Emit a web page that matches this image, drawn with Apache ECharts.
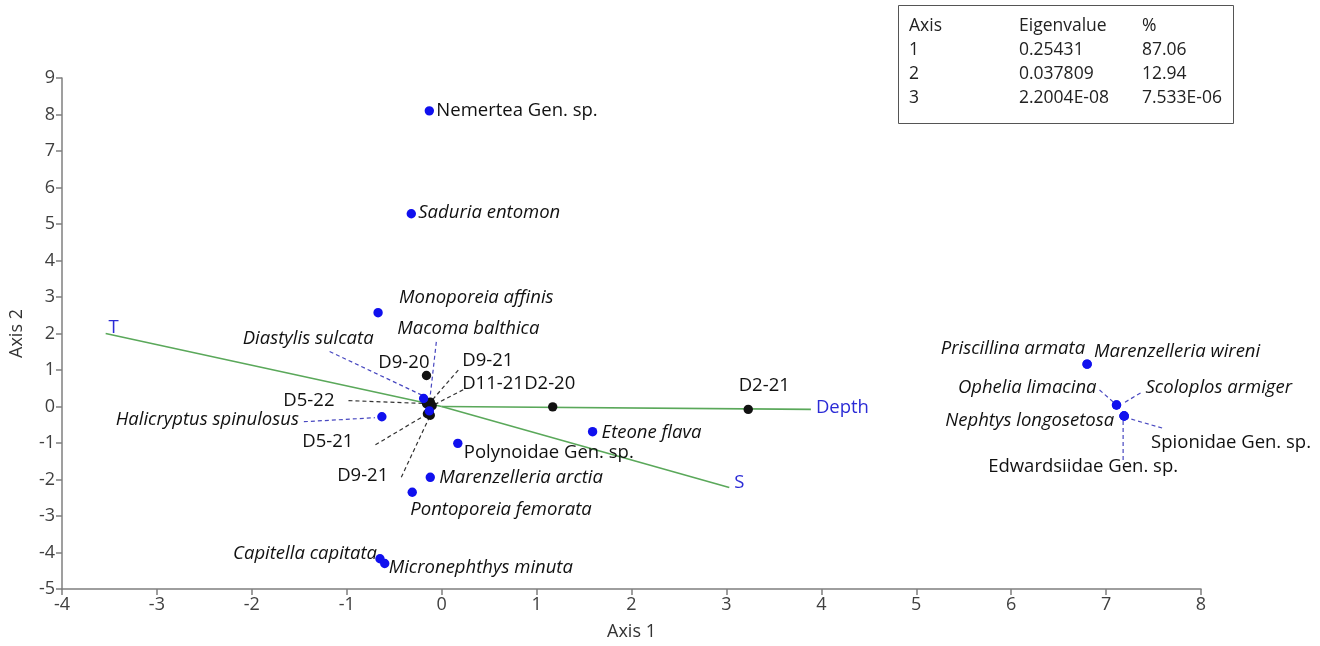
<!DOCTYPE html>
<html>
<head>
<meta charset="utf-8">
<script src="https://cdn.jsdelivr.net/npm/echarts@6/dist/echarts.min.js"></script>
<style>
  html, body { margin: 0; padding: 0; background: #ffffff; }
  #chart { width: 1320px; height: 646px; }
</style>
</head>
<body>
<div id="chart"></div>
<script>
// ---- CCA biplot data ----
const speciesNames = [
  'Nemertea Gen. sp.', 'Saduria entomon', 'Monoporeia affinis', 'Macoma balthica',
  'Diastylis sulcata', 'Halicryptus spinulosus', 'Eteone flava', 'Polynoidae Gen. sp.',
  'Marenzelleria arctia', 'Pontoporeia femorata', 'Capitella capitata', 'Micronephthys minuta',
  'Priscillina armata', 'Marenzelleria wireni', 'Ophelia limacina', 'Scoloplos armiger',
  'Nephtys longosetosa', 'Spionidae Gen. sp.', 'Edwardsiidae Gen. sp.'
];
const speciesAxis1 = [-0.13, -0.32, -0.67, -0.13, -0.19, -0.63, 1.59, 0.17, -0.12, -0.31, -0.65, -0.60, 6.80, 6.80, 7.11, 7.11, 7.19, 7.19, 7.19];
const speciesAxis2 = [8.10, 5.28, 2.57, -0.12, 0.22, -0.28, -0.69, -1.01, -1.94, -2.35, -4.17, -4.30, 1.16, 1.16, 0.04, 0.04, -0.26, -0.26, -0.26];

const sampleNames = ['D9-20', 'D9-21', 'D11-21', 'D2-20', 'D2-21', 'D5-22', 'D5-21', 'D9-21'];
const sampleAxis1 = [-0.16, -0.12, -0.10, 1.17, 3.23, -0.16, -0.15, -0.12];
const sampleAxis2 = [0.85, 0.12, 0.02, -0.01, -0.08, 0.08, -0.20, -0.24];

const envNames = ['T', 'S', 'Depth'];
const envAxis1 = [-3.54, 3.03, 3.89];
const envAxis2 = [2.00, -2.22, -0.08];

const axis1Range = [-4, 8];
const axis2Range = [-5, 9];

const eigenHeader = ['Axis', 'Eigenvalue', '%'];
const eigenAxis = ['1', '2', '3'];
const eigenValues = ['0.25431', '0.037809', '2.2004E-08'];
const eigenPercent = ['87.06', '12.94', '7.533E-06'];

// ---- label placement (pixel offsets from each point; optional dashed leader) ----
const speciesLabelLayout = [
  { dx: 7, dy: 0, align: 'left' },
  { dx: 7, dy: -1, align: 'left' },
  { dx: 21, dy: -15, align: 'left' },
  { dx: 39, dy: -82, align: 'center', leader: [7, -69, 1, -16] },
  { dx: -50, dy: -60, align: 'right', leader: [-94, -47, -1, -3] },
  { dx: -83, dy: 3, align: 'right', leader: [-78, 5, -7, 1] },
  { dx: 9, dy: 1, align: 'left' },
  { dx: 6, dy: 9, align: 'left' },
  { dx: 9, dy: 0, align: 'left' },
  { dx: -2, dy: 17, align: 'left' },
  { dx: -3, dy: -5, align: 'right' },
  { dx: 4, dy: 4, align: 'left' },
  { dx: -2, dy: -15, align: 'right' },
  { dx: 7, dy: -12, align: 'left' },
  { dx: -20, dy: -17, align: 'right', leader: [-17, -15, -2, -2] },
  { dx: 29, dy: -17, align: 'left', leader: [24, -12, 7, -2] },
  { dx: -10, dy: 5, align: 'right' },
  { dx: 27, dy: 27, align: 'left', leader: [38, 12, 3, 2] },
  { dx: -41, dy: 51, align: 'center', leader: [-1, 44, -1, 4] }
];
const sampleLabelLayout = [
  { dx: 3, dy: -13, align: 'right' },
  { dx: 32, dy: -41, align: 'left', leader: [28, -32, 1, -1] },
  { dx: 30, dy: -22, align: 'left', leader: [31, -16, 0, 0] },
  { dx: -3, dy: -23, align: 'center' },
  { dx: 16, dy: -24, align: 'center' },
  { dx: -92, dy: -3, align: 'right', leader: [-78, -3, 0, 0] },
  { dx: -74, dy: 28, align: 'right', leader: [-52, 31, 0, 0] },
  { dx: -42, dy: 60, align: 'right', leader: [-29, 62, 0, 0] }
];
const envLabelLayout = [
  { dx: 8, dy: -6, align: 'center' },
  { dx: 5, dy: -5, align: 'left' },
  { dx: 5, dy: -2, align: 'left' }
];

const FONT = "'Open Sans', 'Noto Sans', sans-serif";
const LABEL_SIZE = 18.5;

function pointRenderer(names, layouts, dotColor, leaderColor, italicFor) {
  return function (params, api) {
    const i = params.dataIndex;
    const p = api.coord([api.value(0), api.value(1)]);
    const lay = layouts[i];
    const children = [];
    if (lay.leader) {
      const l = lay.leader;
      children.push({
        type: 'line', z2: 1,
        shape: { x1: p[0] + l[0], y1: p[1] + l[1], x2: p[0] + l[2], y2: p[1] + l[3] },
        style: { stroke: leaderColor, lineWidth: 1.2, lineDash: [4, 3] }
      });
    }
    children.push({
      type: 'circle', z2: 10,
      shape: { cx: p[0], cy: p[1], r: 4.7 },
      style: { fill: dotColor }
    });
    children.push({
      type: 'text', z2: 20,
      style: {
        text: names[i], x: p[0] + lay.dx, y: p[1] + lay.dy,
        align: lay.align, verticalAlign: 'middle',
        fill: '#111111', fontSize: LABEL_SIZE, fontFamily: FONT,
        fontStyle: italicFor(names[i]) ? 'italic' : 'normal'
      }
    });
    return { type: 'group', children: children };
  };
}

const chart = echarts.init(document.getElementById('chart'), null, { renderer: 'canvas' });

// eigenvalue table in the top-right corner
const tableLeft = 898, tableTop = 5;
const colX = [11, 121, 244];
const rowY = [24, 48, 72, 96];
const tableRows = [eigenHeader].concat(eigenAxis.map((a, i) => [a, eigenValues[i], eigenPercent[i]]));
const tableTexts = [];
tableRows.forEach((row, r) => {
  row.forEach((cell, c) => {
    tableTexts.push({
      type: 'text', left: tableLeft + colX[c], top: tableTop + rowY[r] - 12,
      style: { text: cell, fill: '#222222', fontSize: 17.5, fontFamily: FONT }
    });
  });
});

const option = {
  backgroundColor: '#ffffff',
  animation: false,
  grid: { left: 60, right: 119, top: 78, bottom: 52, containLabel: false },
  xAxis: {
    type: 'value', min: axis1Range[0], max: axis1Range[1], interval: 1,
    name: 'Axis 1', nameLocation: 'middle', nameGap: 34,
    nameTextStyle: { color: '#333333', fontSize: 18, fontFamily: FONT },
    axisLine: { onZero: false, lineStyle: { color: '#7f7f7f', width: 1.5 } },
    axisTick: { show: true, length: 6, lineStyle: { color: '#7f7f7f', width: 1.5 } },
    axisLabel: { color: '#404040', fontSize: 18, fontFamily: FONT, margin: 7 },
    splitLine: { show: false }
  },
  yAxis: {
    type: 'value', min: axis2Range[0], max: axis2Range[1], interval: 1,
    name: 'Axis 2', nameLocation: 'middle', nameGap: 36,
    nameTextStyle: { color: '#333333', fontSize: 18, fontFamily: FONT },
    axisLine: { onZero: false, lineStyle: { color: '#7f7f7f', width: 1.5 } },
    axisTick: { show: true, length: 6, lineStyle: { color: '#7f7f7f', width: 1.5 } },
    axisLabel: { color: '#404040', fontSize: 18, fontFamily: FONT, margin: 7 },
    splitLine: { show: false }
  },
  graphic: [
    {
      type: 'rect', left: tableLeft, top: tableTop,
      shape: { width: 335, height: 118 },
      style: { fill: '#ffffff', stroke: '#555555', lineWidth: 1 }
    }
  ].concat(tableTexts),
  series: [
    {
      name: 'Environment', type: 'custom', z: 2,
      data: envAxis1.map((x, i) => [x, envAxis2[i]]),
      renderItem: function (params, api) {
        const i = params.dataIndex;
        const o = api.coord([0, 0]);
        const p = api.coord([api.value(0), api.value(1)]);
        const lay = envLabelLayout[i];
        return {
          type: 'group',
          children: [
            { type: 'line', shape: { x1: o[0], y1: o[1], x2: p[0], y2: p[1] },
              style: { stroke: '#5aa85a', lineWidth: 1.6 } },
            { type: 'text', style: {
                text: envNames[i], x: p[0] + lay.dx, y: p[1] + lay.dy,
                align: lay.align, verticalAlign: 'middle',
                fill: '#2b2bd6', fontSize: LABEL_SIZE, fontFamily: FONT } }
          ]
        };
      }
    },
    {
      name: 'Samples', type: 'custom', z: 3,
      data: sampleAxis1.map((x, i) => [x, sampleAxis2[i]]),
      renderItem: pointRenderer(sampleNames, sampleLabelLayout, '#111111', '#333333', () => false)
    },
    {
      name: 'Species', type: 'custom', z: 4,
      data: speciesAxis1.map((x, i) => [x, speciesAxis2[i]]),
      renderItem: pointRenderer(speciesNames, speciesLabelLayout, '#1010ee', '#4848c0',
        (n) => !/Gen\. sp\.$/.test(n))
    }
  ]
};

chart.setOption(option);
</script>
</body>
</html>
